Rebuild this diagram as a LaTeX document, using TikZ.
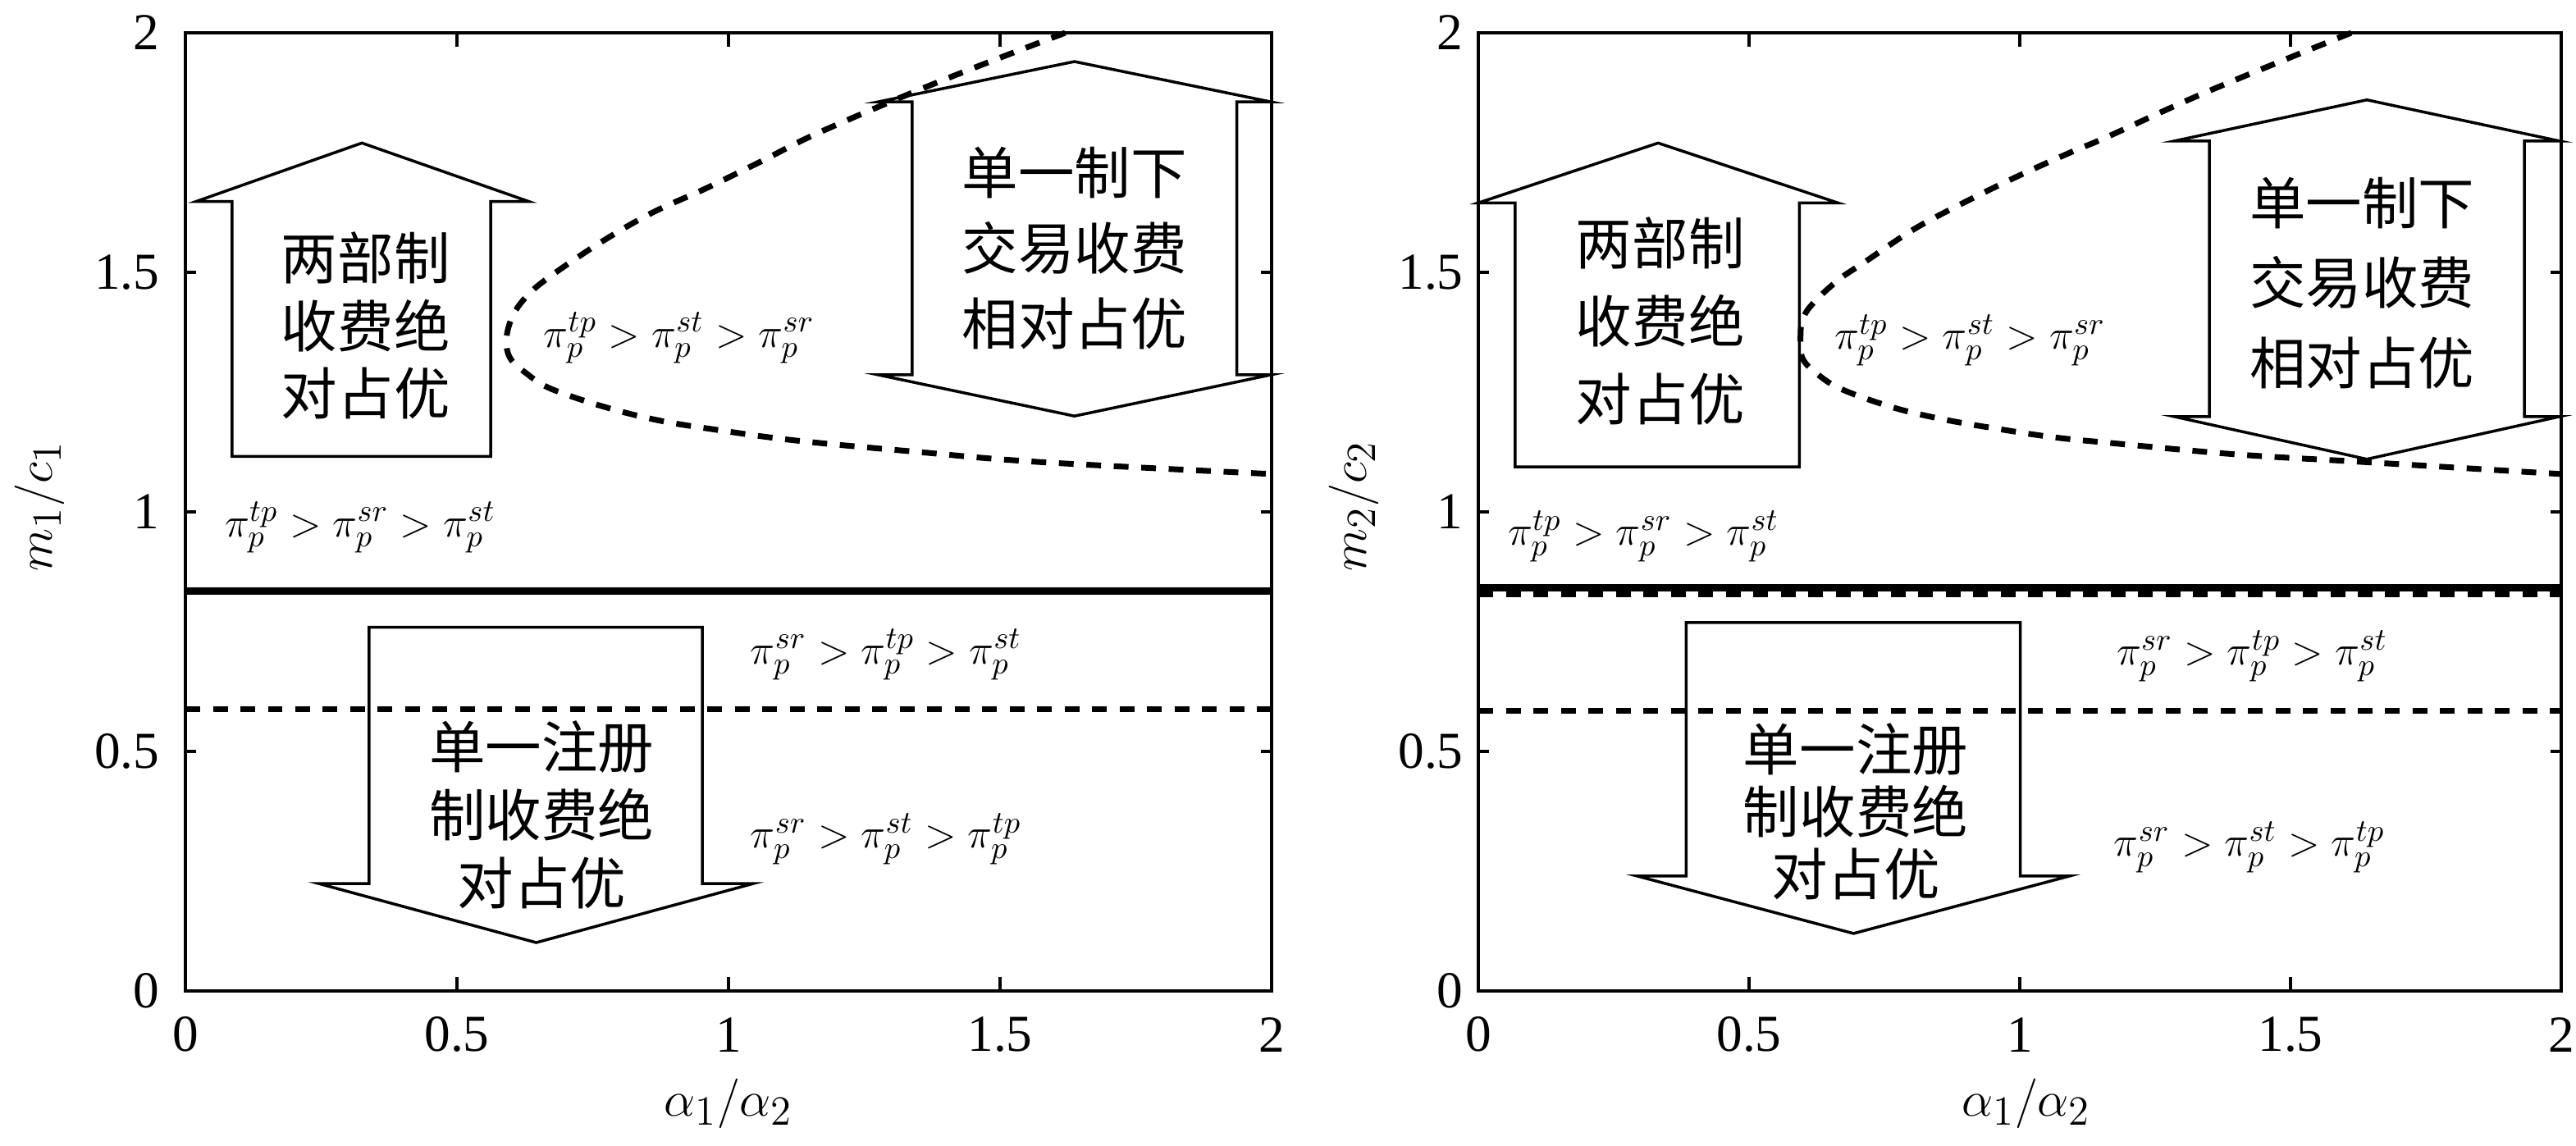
\documentclass[tikz,border=0pt]{standalone}
\usepackage{fontspec}
\setmainfont{Liberation Serif}
\newfontfamily\cjk{Noto Sans CJK SC}
\DeclareMathSizes{13.5}{13.5}{11}{8.5}
\DeclareMathSizes{17}{17}{14}{11}
\DeclareMathSizes{19}{19}{15.5}{12}
\tikzset{
  frame/.style={line width=0.04cm},
  arrowshape/.style={line width=0.035cm, line join=miter},
  bound/.style={line width=0.07cm, dash pattern=on 0.18cm off 0.155cm},
  thickline/.style={line width=0.09cm},
  lbl/.style={font=\fontsize{13.5}{16}\selectfont, inner sep=0pt},
  cjkblk/.style={align=center, inner sep=0pt},
  ticklbl/.style={font=\fontsize{18}{20}\selectfont, inner sep=0pt},
  ylbl/.style={font=\fontsize{17}{20}\selectfont, inner sep=0pt, rotate=90},
  xlbl/.style={font=\fontsize{19}{22}\selectfont, inner sep=0pt},
}
\begin{document}
\begin{tikzpicture}
\useasboundingbox (0,0) rectangle (31.4,13.96);
\fill[white] (0,0) rectangle (31.4,13.96);

% ---------------- left panel ----------------
\begin{scope}[shift={(2.26,1.88)}, x=6.62cm, y=5.84cm]
  \draw[frame] (0,0) rectangle (2,2);
  \foreach \t in {0.5,1,1.5} {
    \draw[frame] (\t,0) -- ++(0,0.17cm);
    \draw[frame] (\t,2) -- ++(0,-0.17cm);
    \draw[frame] (0,\t) -- ++(0.13cm,0);
    \draw[frame] (2,\t) -- ++(-0.13cm,0);
  }
  \foreach \t [count=\i] in {0,0.5,1,1.5,2} {
    \node[ticklbl] (Lxt\i) at (\t,-0.091) {\t};
    \node[ticklbl, anchor=east] (Lyt\i) at (-0.047,\t) {\t};
  }
  % boundaries
  \draw[bound] (0,0.589) -- (2,0.589);
  \draw[thickline] (0,0.835) -- (2,0.835);
  \draw[bound] plot[smooth, tension=0.6] coordinates {
    (1.620,2.000) (1.390,1.899) (1.169,1.793) (1.059,1.731) (0.958,1.675)
    (0.857,1.623) (0.761,1.560) (0.671,1.491) (0.630,1.452) (0.603,1.410)
    (0.591,1.361) (0.598,1.321) (0.628,1.289) (0.671,1.258) (0.766,1.221)
    (0.867,1.192) (0.968,1.173) (1.124,1.149) (1.350,1.125) (1.574,1.104)
    (2.000,1.079)};
  % up arrow
  \draw[arrowshape] (0.086,1.116) -- (0.562,1.116) -- (0.562,1.648) -- (0.632,1.648)
    -- (0.325,1.770) -- (0.020,1.648) -- (0.086,1.648) -- cycle;
  % down arrow
  \draw[arrowshape] (0.338,0.759) -- (0.952,0.759) -- (0.952,0.224) -- (1.045,0.224)
    -- (0.646,0.101) -- (0.246,0.224) -- (0.338,0.224) -- cycle;
  % double arrow
  \draw[arrowshape] (1.276,1.856) -- (1.637,1.940) -- (1.998,1.856) -- (1.936,1.856)
    -- (1.936,1.286) -- (1.998,1.286) -- (1.637,1.200) -- (1.276,1.286)
    -- (1.338,1.286) -- (1.338,1.856) -- cycle;
  % texts
  \node[cjkblk, font=\cjk\fontsize{19.5}{23.6}\selectfont] (Lup) at (0.332,1.389) {两部制\\收费绝\\对占优};
  \node[cjkblk, font=\cjk\fontsize{19.5}{26.2}\selectfont] (Ldbl) at (1.637,1.551) {单一制下\\交易收费\\相对占优};
  \node[cjkblk, font=\cjk\fontsize{19.5}{23.6}\selectfont] (Ldn) at (0.656,0.368) {单一注册\\制收费绝\\对占优};
  \node[lbl] (La) at (0.909,1.363) {$\pi_p^{tp} > \pi_p^{st} > \pi_p^{sr}$};
  \node[lbl] (Lb) at (0.322,0.967) {$\pi_p^{tp} > \pi_p^{sr} > \pi_p^{st}$};
  \node[lbl] (Lc) at (1.290,0.702) {$\pi_p^{sr} > \pi_p^{tp} > \pi_p^{st}$};
  \node[lbl] (Ld) at (1.290,0.317) {$\pi_p^{sr} > \pi_p^{st} > \pi_p^{tp}$};
\end{scope}

% ---------------- right panel ----------------
\begin{scope}[shift={(18.02,1.88)}, x=6.60cm, y=5.84cm]
  \draw[frame] (0,0) rectangle (2,2);
  \foreach \t in {0.5,1,1.5} {
    \draw[frame] (\t,0) -- ++(0,0.17cm);
    \draw[frame] (\t,2) -- ++(0,-0.17cm);
    \draw[frame] (0,\t) -- ++(0.13cm,0);
    \draw[frame] (2,\t) -- ++(-0.13cm,0);
  }
  \foreach \t [count=\i] in {0,0.5,1,1.5,2} {
    \node[ticklbl] (Rxt\i) at (\t,-0.091) {\t};
    \node[ticklbl, anchor=east] (Ryt\i) at (-0.027,\t) {\t};
  }
  \draw[bound] (0,0.585) -- (2,0.585);
  \draw[bound] (0,0.828) -- (2,0.828);
  \draw[thickline] (0,0.842) -- (2,0.842);
  \draw[bound] plot[smooth, tension=0.6] coordinates {
    (1.612,2.000) (1.348,1.878) (1.162,1.783) (1.097,1.752) (0.995,1.700)
    (0.894,1.644) (0.803,1.589) (0.713,1.521) (0.667,1.486) (0.622,1.440)
    (0.600,1.405) (0.595,1.365) (0.599,1.320) (0.628,1.286) (0.673,1.255)
    (0.769,1.217) (0.864,1.192) (0.961,1.173) (1.061,1.156) (1.166,1.144)
    (1.400,1.120) (1.637,1.104) (2.000,1.079)};
  \draw[arrowshape] (0.068,1.094) -- (0.593,1.094) -- (0.593,1.645) -- (0.664,1.645)
    -- (0.332,1.770) -- (0.000,1.645) -- (0.068,1.645) -- cycle;
  \draw[arrowshape] (0.384,0.769) -- (1.001,0.769) -- (1.001,0.240) -- (1.092,0.240)
    -- (0.693,0.120) -- (0.293,0.240) -- (0.384,0.240) -- cycle;
  \draw[arrowshape] (1.285,1.774) -- (1.641,1.860) -- (1.997,1.774) -- (1.932,1.774)
    -- (1.932,1.199) -- (1.997,1.199) -- (1.641,1.110) -- (1.285,1.199)
    -- (1.350,1.199) -- (1.350,1.774) -- cycle;
  \node[cjkblk, font=\cjk\fontsize{19.5}{27}\selectfont] (Rup) at (0.336,1.399) {两部制\\收费绝\\对占优};
  \node[cjkblk, font=\cjk\fontsize{19.5}{27.7}\selectfont] (Rdbl) at (1.632,1.478) {单一制下\\交易收费\\相对占优};
  \node[cjkblk, font=\cjk\fontsize{19.5}{21.6}\selectfont] (Rdn) at (0.697,0.375) {单一注册\\制收费绝\\对占优};
  \node[lbl] (Ra) at (0.908,1.358) {$\pi_p^{tp} > \pi_p^{st} > \pi_p^{sr}$};
  \node[lbl] (Rb) at (0.305,0.949) {$\pi_p^{tp} > \pi_p^{sr} > \pi_p^{st}$};
  \node[lbl] (Rc) at (1.429,0.699) {$\pi_p^{sr} > \pi_p^{tp} > \pi_p^{st}$};
  \node[lbl] (Rd) at (1.424,0.300) {$\pi_p^{sr} > \pi_p^{st} > \pi_p^{tp}$};
\end{scope}

% axis labels
\node[ylbl] (Lylab) at (0.48,7.79) {$m_1/c_1$};
\node[xlbl] (Lxlab) at (8.88,0.51) {$\alpha_1/\alpha_2$};
\node[ylbl] (Rylab) at (16.50,7.79) {$m_2/c_2$};
\node[xlbl] (Rxlab) at (24.70,0.51) {$\alpha_1/\alpha_2$};
\end{tikzpicture}
\end{document}
